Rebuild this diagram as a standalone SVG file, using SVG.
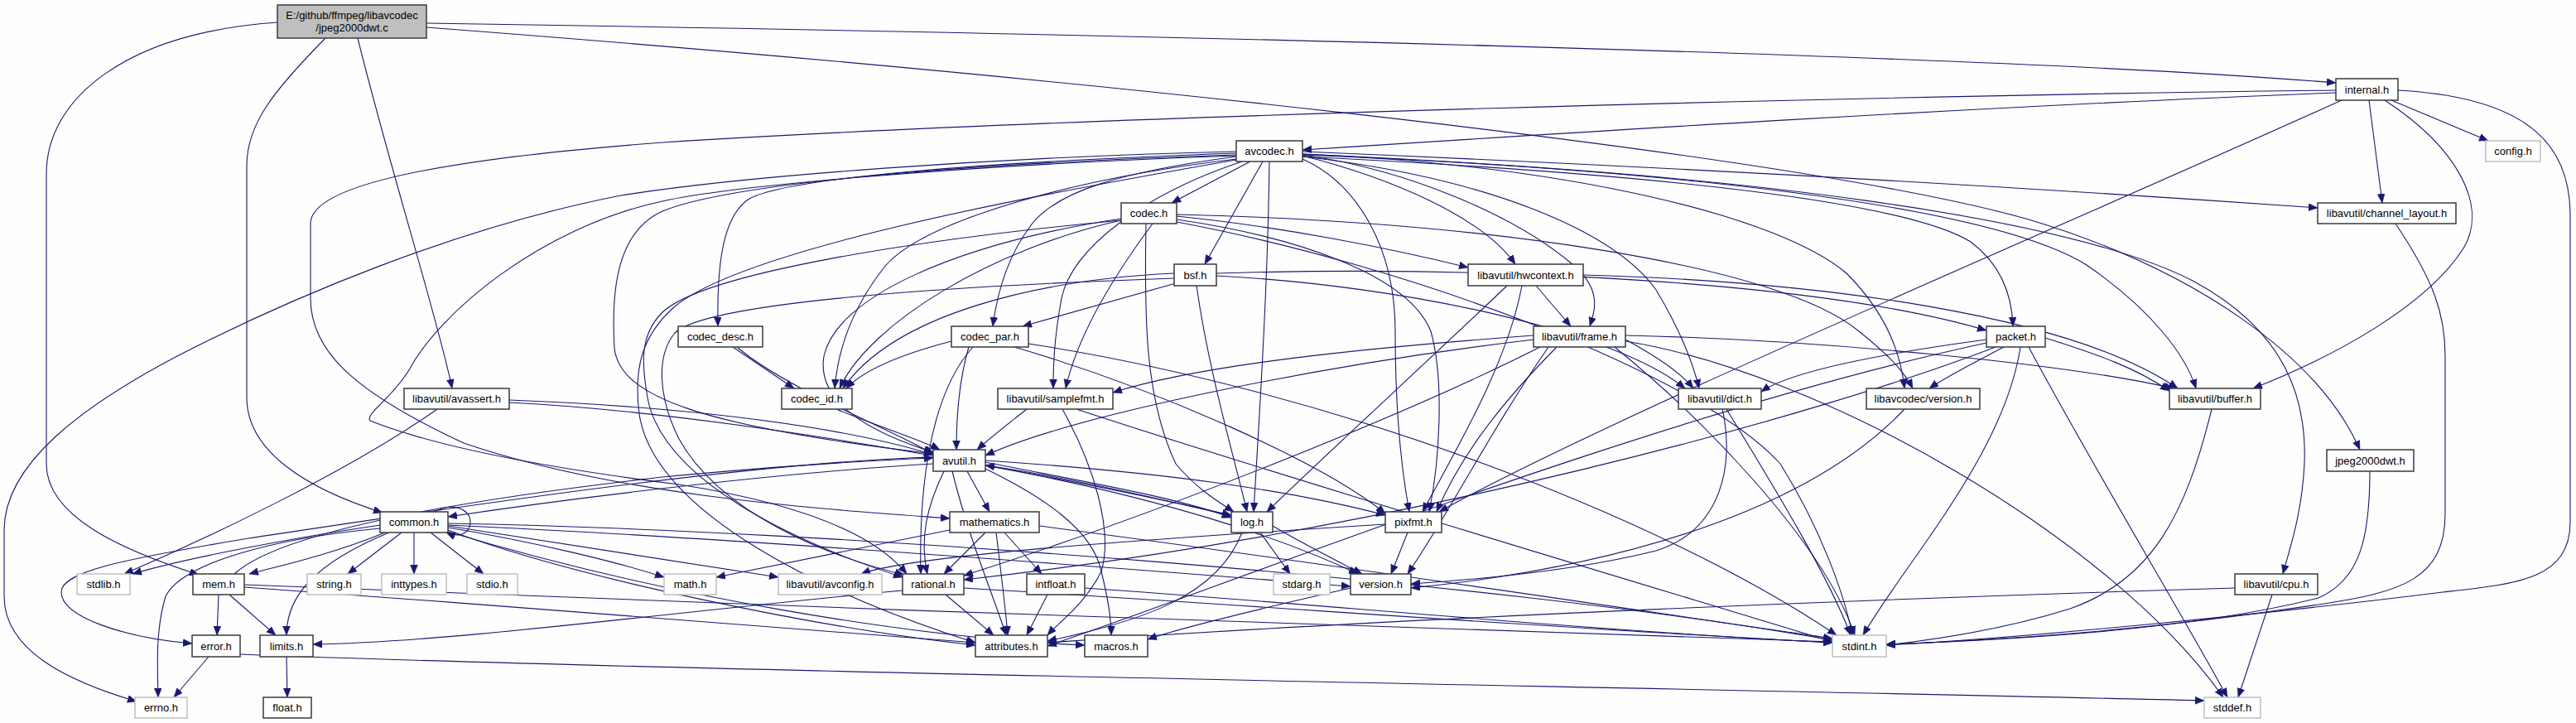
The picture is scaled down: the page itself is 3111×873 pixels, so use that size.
<svg xmlns="http://www.w3.org/2000/svg" width="3111" height="873" viewBox="0 0 3111 873">
<style>
.n rect{fill:#ffffff;stroke:#3a3a3a;stroke-width:1.5}
.g rect{fill:#ffffff;stroke:#bfbfbf;stroke-width:1.5}
.r rect{fill:#bfbfbf;stroke:#3a3a3a;stroke-width:1.5}
text{font-family:"Liberation Sans",Arial,sans-serif;font-size:13px;fill:#000;text-anchor:middle}
#edges path{fill:none;stroke:#191970;stroke-width:1.1;marker-end:url(#ah)}
</style>
<defs>
<marker id="ah" markerUnits="userSpaceOnUse" markerWidth="12" markerHeight="10" refX="11" refY="4.5" orient="auto">
<path d="M0,0 L11,4.5 L0,9 z" fill="#191970" stroke="#191970" stroke-width="0.5"/>
</marker>
</defs>
<rect x="0" y="0" width="3111" height="873" fill="#fdfefd"/>
<g id="edges">
<path d="M515,28 C1300,40 2400,65 2821,100"/>
<path d="M515,33 C1200,85 2150,180 2450,265 C2650,325 2800,430 2850,543"/>
<path d="M432,46 C470,200 530,390 546,469"/>
<path d="M393,46 C330,110 298,150 298,200 L298,480 C298,545 370,590 462,619"/>
<path d="M335,27 C150,40 56,120 56,210 L56,560 C56,625 150,665 240,694"/>
<path d="M2821,112 C2400,128 1900,160 1573,181"/>
<path d="M2821,109 C2300,115 1300,140 800,172 C560,190 375,220 375,270 L375,360 C375,420 420,470 560,535 C750,600 1000,615 1147,626"/>
<path d="M2828,121 C2500,270 1950,500 1738,618"/>
<path d="M2861,121 L2877,245"/>
<path d="M2888,121 L3005,170"/>
<path d="M2880,121 C2970,180 3005,250 2975,300 C2930,370 2820,430 2721,469"/>
<path d="M2896,109 C3060,118 3104,180 3104,260 L3104,630 C3104,700 3040,705 2950,715 C2750,740 2450,770 2278,779"/>
<path d="M1510,195 L1415,245"/>
<path d="M1525,195 L1455,319"/>
<path d="M1533,195 C1531,350 1521,500 1514,618"/>
<path d="M1493,185 C1180,196 950,215 905,240 C870,262 866,330 867,394"/>
<path d="M1493,189 C1350,208 1275,232 1245,272 C1215,312 1204,355 1199,394"/>
<path d="M1493,192 C1300,215 1120,265 1070,320 C1030,370 1012,420 1008,469"/>
<path d="M1500,195 C1380,235 1295,300 1282,360 C1273,410 1272,440 1272,469"/>
<path d="M1493,187 C1150,198 880,222 800,255 C745,280 738,350 742,420 C748,480 850,515 1127,548"/>
<path d="M1493,188 C1150,200 880,225 800,243 C650,275 530,380 495,445 C475,480 440,500 447,508 C540,545 700,570 820,585 C980,610 1060,650 1095,693"/>
<path d="M1493,193 C1250,235 900,300 815,370 C775,405 765,445 772,500 C790,620 1000,720 1178,776"/>
<path d="M1493,183 C1200,190 900,212 750,236 C550,275 350,360 214,430 C100,490 5,560 5,640 L5,720 C5,785 80,822 165,847"/>
<path d="M1573,186 C2000,205 2400,245 2520,320 C2600,375 2640,430 2652,469"/>
<path d="M1573,187 C2100,208 2500,262 2650,340 C2760,400 2786,480 2783,560 C2780,620 2766,660 2757,693"/>
<path d="M1573,183 C2100,205 2500,230 2799,251"/>
<path d="M1573,189 C1800,215 1950,280 2000,350 C2030,400 2045,440 2052,469"/>
<path d="M1573,187 C1700,205 1830,260 1900,320 C1935,350 1926,375 1920,394"/>
<path d="M1573,188 C1680,215 1790,262 1830,319"/>
<path d="M1573,192 C1640,222 1685,300 1685,400 C1685,500 1692,565 1702,618"/>
<path d="M1573,189 C2000,210 2300,243 2380,292 C2420,322 2430,360 2431,394"/>
<path d="M1573,186 C1900,200 2150,262 2230,330 C2280,380 2296,430 2300,469"/>
<path d="M1421,268 C1700,320 2050,450 2150,560 C2200,640 2228,720 2237,767"/>
<path d="M1354,264 C1150,295 1010,360 995,430 C985,490 1060,525 1127,546"/>
<path d="M1421,261 C1550,274 1680,300 1773,323"/>
<path d="M1384,270 C1382,380 1382,480 1420,560 C1445,590 1470,605 1490,618"/>
<path d="M1421,265 C1560,285 1700,330 1728,400 C1745,460 1738,560 1726,618"/>
<path d="M1354,266 C1100,290 850,330 800,377 C772,405 775,440 782,480 C800,580 960,655 1090,697"/>
<path d="M1392,270 C1340,340 1300,410 1287,469"/>
<path d="M1354,266 C1200,300 1050,390 1014,469"/>
<path d="M1421,259 C1800,268 2150,320 2245,400 C2285,432 2300,450 2310,469"/>
<path d="M1469,333 C1700,345 1950,400 2035,469"/>
<path d="M1445,345 C1460,450 1490,550 1506,618"/>
<path d="M1418,336 C1100,347 850,368 815,402 C792,430 795,480 820,530 C870,620 1000,672 1092,694"/>
<path d="M1418,330 C1250,338 1080,380 1018,469"/>
<path d="M1420,342 L1235,394"/>
<path d="M1469,330 C1800,320 2200,340 2399,399"/>
<path d="M890,419 C950,470 1080,520 1127,548"/>
<path d="M885,419 L959,469"/>
<path d="M1242,415 C1600,470 2000,620 2218,767"/>
<path d="M1170,419 C1158,460 1155,510 1155,543"/>
<path d="M1175,419 C1120,480 1110,600 1112,693"/>
<path d="M1225,419 C1400,470 1600,560 1673,620"/>
<path d="M1149,412 C1080,430 1040,450 1022,469"/>
<path d="M1010,494 C1060,515 1110,530 1135,543"/>
<path d="M2450,419 C2520,550 2640,750 2690,842"/>
<path d="M2440,419 C2420,550 2300,680 2250,767"/>
<path d="M2399,414 C2000,500 1500,700 1265,780"/>
<path d="M2470,408 C2540,430 2580,445 2620,472"/>
<path d="M2399,410 C2250,430 2160,450 2127,473"/>
<path d="M2410,419 C2200,500 1700,640 1164,700"/>
<path d="M2420,419 C2380,440 2350,455 2330,469"/>
<path d="M1912,332 C2200,340 2500,380 2630,469"/>
<path d="M1855,345 L1897,394"/>
<path d="M1820,345 C1720,440 1600,550 1530,618"/>
<path d="M1838,345 C1820,440 1760,540 1718,618"/>
<path d="M1963,412 C2200,450 2550,650 2685,842"/>
<path d="M1950,419 C2050,500 2200,650 2240,767"/>
<path d="M1852,410 C1600,440 1300,500 1190,550"/>
<path d="M1963,405 C2200,410 2500,440 2625,469"/>
<path d="M1963,410 C2000,430 2030,450 2045,469"/>
<path d="M1860,419 C1700,500 1400,620 1164,695"/>
<path d="M1852,405 C1650,420 1450,440 1344,474"/>
<path d="M1880,419 C1800,500 1760,560 1735,618"/>
<path d="M1870,419 C1800,520 1750,620 1700,693"/>
<path d="M2085,494 C2150,600 2210,700 2235,767"/>
<path d="M2080,494 C2095,560 2080,640 2000,665 C1900,690 1780,700 1704,705"/>
<path d="M2300,494 C2200,600 2000,680 1704,710"/>
<path d="M2671,494 C2640,620 2600,700 2500,735 C2420,760 2340,772 2278,779"/>
<path d="M2893,270 C2940,340 2953,380 2953,430 L2953,620 C2953,700 2900,715 2800,730 C2600,760 2440,772 2278,778"/>
<path d="M1300,494 C1500,560 1900,680 2213,775"/>
<path d="M1240,494 C1220,510 1200,525 1180,543"/>
<path d="M1283,494 C1320,560 1345,640 1330,690 C1310,730 1280,750 1265,767"/>
<path d="M1150,569 C1170,650 1200,720 1215,767"/>
<path d="M1190,562 C1400,600 1550,650 1640,693"/>
<path d="M1127,560 C950,570 700,600 541,624"/>
<path d="M1127,552 C900,558 500,620 300,650 C150,675 74,690 74,715 C74,745 150,770 232,777"/>
<path d="M1140,569 C1120,610 1110,650 1120,693"/>
<path d="M1190,566 C1260,600 1320,640 1330,690 C1340,730 1342,750 1342,767"/>
<path d="M1168,569 L1195,618"/>
<path d="M1190,558 C1300,580 1420,600 1487,625"/>
<path d="M1190,556 C1400,570 1550,590 1673,622"/>
<path d="M459,638 C330,650 220,680 200,720 C188,760 190,800 191,842"/>
<path d="M500,643 L500,693"/>
<path d="M470,643 C380,680 346,720 346,767"/>
<path d="M541,637 C650,655 750,680 802,697"/>
<path d="M541,632 C1000,640 1800,700 2213,773"/>
<path d="M520,643 L584,693"/>
<path d="M459,634 C350,650 220,675 160,693"/>
<path d="M485,643 L420,693"/>
<path d="M541,640 C700,700 1000,760 1178,779"/>
<path d="M541,642 C800,720 1100,770 1310,779"/>
<path d="M541,634 C900,650 1400,690 1631,708"/>
<path d="M541,635 C700,660 870,685 940,697"/>
<path d="M465,643 C400,670 330,685 301,693"/>
<path d="M525,618 C545,606 568,614 568,630 C568,646 552,649 539,643"/>
<path d="M277,718 L333,767"/>
<path d="M295,706 C900,730 1700,760 2213,775"/>
<path d="M295,709 C600,730 950,760 1178,776"/>
<path d="M264,718 L262,767"/>
<path d="M283,693 C330,650 500,610 800,576 C950,562 1050,556 1127,553"/>
<path d="M252,793 L210,842"/>
<path d="M290,790 C800,810 2000,830 2662,846"/>
<path d="M346,793 L347,842"/>
<path d="M1255,635 C1600,680 2000,740 2213,771"/>
<path d="M1147,640 C1000,670 900,690 865,697"/>
<path d="M1203,643 C1210,700 1215,740 1217,767"/>
<path d="M1190,643 L1140,693"/>
<path d="M1213,643 L1258,693"/>
<path d="M1164,710 C1500,730 1900,760 2213,776"/>
<path d="M1090,713 C800,740 550,775 378,778"/>
<path d="M1142,718 L1200,767"/>
<path d="M1310,710 C1600,730 1900,760 2213,776"/>
<path d="M1265,718 L1240,767"/>
<path d="M1522,643 L1558,693"/>
<path d="M1487,623 C1350,590 1250,570 1190,562"/>
<path d="M1500,643 C1470,720 1380,750 1265,774"/>
<path d="M1537,635 C1580,660 1620,680 1645,693"/>
<path d="M1673,633 C1400,650 1100,670 1040,693"/>
<path d="M1700,643 L1680,693"/>
<path d="M1631,710 C1500,740 1420,760 1386,772"/>
<path d="M2744,718 L2703,842"/>
<path d="M2699,710 C2300,722 1700,745 1265,776"/>
<path d="M2862,569 C2862,650 2850,700 2800,722 C2650,760 2440,772 2278,778"/>
<path d="M528,494 C420,570 250,650 150,693"/>
<path d="M615,483 C800,490 1000,510 1127,549"/>
<path d="M615,486 C900,500 1300,580 1487,622"/>
</g>
<g id="n_root" class="r"><rect x="335" y="6" width="180" height="40"/><text x="425" y="23">E:/github/ffmpeg/libavcodec</text><text x="425" y="38">/jpeg2000dwt.c</text></g>
<g id="n_internal" class="n"><rect x="2821" y="95" width="75" height="26"/><text x="2858.5" y="112.5">internal.h</text></g>
<g id="n_avcodec" class="n"><rect x="1493" y="170" width="80" height="25"/><text x="1533" y="187">avcodec.h</text></g>
<g id="n_config" class="g"><rect x="3002" y="170" width="66" height="25"/><text x="3035" y="187">config.h</text></g>
<g id="n_codec" class="n"><rect x="1354" y="245" width="67" height="25"/><text x="1387.5" y="262">codec.h</text></g>
<g id="n_channel_layout" class="n"><rect x="2799" y="245" width="167" height="25"/><text x="2882.5" y="262">libavutil/channel_layout.h</text></g>
<g id="n_bsf" class="n"><rect x="1418" y="319" width="51" height="26"/><text x="1443.5" y="336.5">bsf.h</text></g>
<g id="n_hwcontext" class="n"><rect x="1773" y="319" width="139" height="26"/><text x="1842.5" y="336.5">libavutil/hwcontext.h</text></g>
<g id="n_codec_desc" class="n"><rect x="819" y="394" width="102" height="25"/><text x="870" y="411">codec_desc.h</text></g>
<g id="n_codec_par" class="n"><rect x="1149" y="394" width="93" height="25"/><text x="1195.5" y="411">codec_par.h</text></g>
<g id="n_frame" class="n"><rect x="1852" y="394" width="111" height="25"/><text x="1907.5" y="411">libavutil/frame.h</text></g>
<g id="n_packet" class="n"><rect x="2399" y="394" width="71" height="25"/><text x="2434.5" y="411">packet.h</text></g>
<g id="n_avassert" class="n"><rect x="488" y="469" width="127" height="25"/><text x="551.5" y="486">libavutil/avassert.h</text></g>
<g id="n_codec_id" class="n"><rect x="944" y="469" width="85" height="25"/><text x="986.5" y="486">codec_id.h</text></g>
<g id="n_samplefmt" class="n"><rect x="1205" y="469" width="139" height="25"/><text x="1274.5" y="486">libavutil/samplefmt.h</text></g>
<g id="n_dict" class="n"><rect x="2027" y="469" width="100" height="25"/><text x="2077" y="486">libavutil/dict.h</text></g>
<g id="n_lavc_version" class="n"><rect x="2254" y="469" width="137" height="25"/><text x="2322.5" y="486">libavcodec/version.h</text></g>
<g id="n_buffer" class="n"><rect x="2620" y="469" width="110" height="25"/><text x="2675" y="486">libavutil/buffer.h</text></g>
<g id="n_avutil" class="n"><rect x="1127" y="543" width="63" height="26"/><text x="1158.5" y="560.5">avutil.h</text></g>
<g id="n_jpeg2000dwt" class="n"><rect x="2810" y="543" width="105" height="26"/><text x="2862.5" y="560.5">jpeg2000dwt.h</text></g>
<g id="n_common" class="n"><rect x="459" y="618" width="82" height="25"/><text x="500" y="635">common.h</text></g>
<g id="n_mathematics" class="n"><rect x="1147" y="618" width="108" height="25"/><text x="1201" y="635">mathematics.h</text></g>
<g id="n_log" class="n"><rect x="1487" y="618" width="50" height="25"/><text x="1512" y="635">log.h</text></g>
<g id="n_pixfmt" class="n"><rect x="1673" y="618" width="68" height="25"/><text x="1707" y="635">pixfmt.h</text></g>
<g id="n_stdlib" class="g"><rect x="93" y="693" width="64" height="25"/><text x="125" y="710">stdlib.h</text></g>
<g id="n_mem" class="n"><rect x="233" y="693" width="62" height="25"/><text x="264" y="710">mem.h</text></g>
<g id="n_string" class="g"><rect x="371" y="693" width="65" height="25"/><text x="403.5" y="710">string.h</text></g>
<g id="n_inttypes" class="g"><rect x="461" y="693" width="78" height="25"/><text x="500" y="710">inttypes.h</text></g>
<g id="n_stdio" class="g"><rect x="564" y="693" width="61" height="25"/><text x="594.5" y="710">stdio.h</text></g>
<g id="n_math" class="g"><rect x="802" y="693" width="63" height="25"/><text x="833.5" y="710">math.h</text></g>
<g id="n_avconfig" class="g"><rect x="940" y="693" width="125" height="25"/><text x="1002.5" y="710">libavutil/avconfig.h</text></g>
<g id="n_rational" class="n"><rect x="1090" y="693" width="74" height="25"/><text x="1127" y="710">rational.h</text></g>
<g id="n_intfloat" class="n"><rect x="1240" y="693" width="70" height="25"/><text x="1275" y="710">intfloat.h</text></g>
<g id="n_stdarg" class="g"><rect x="1538" y="693" width="68" height="25"/><text x="1572" y="710">stdarg.h</text></g>
<g id="n_version" class="n"><rect x="1631" y="693" width="73" height="25"/><text x="1667.5" y="710">version.h</text></g>
<g id="n_cpu" class="n"><rect x="2699" y="693" width="100" height="25"/><text x="2749" y="710">libavutil/cpu.h</text></g>
<g id="n_error" class="n"><rect x="232" y="767" width="58" height="26"/><text x="261" y="784.5">error.h</text></g>
<g id="n_limits" class="n"><rect x="314" y="767" width="64" height="26"/><text x="346" y="784.5">limits.h</text></g>
<g id="n_attributes" class="n"><rect x="1178" y="767" width="87" height="26"/><text x="1221.5" y="784.5">attributes.h</text></g>
<g id="n_macros" class="n"><rect x="1310" y="767" width="76" height="26"/><text x="1348" y="784.5">macros.h</text></g>
<g id="n_stdint" class="g"><rect x="2213" y="767" width="65" height="26"/><text x="2245.5" y="784.5">stdint.h</text></g>
<g id="n_errno" class="g"><rect x="163" y="842" width="63" height="25"/><text x="194.5" y="859">errno.h</text></g>
<g id="n_float" class="n"><rect x="318" y="842" width="58" height="25"/><text x="347" y="859">float.h</text></g>
<g id="n_stddef" class="g"><rect x="2662" y="842" width="68" height="25"/><text x="2696" y="859">stddef.h</text></g>
</svg>
